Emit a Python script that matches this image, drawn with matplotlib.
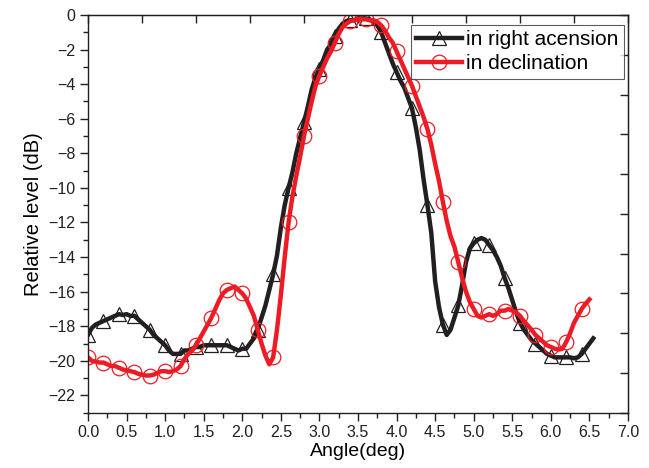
import numpy as np
import matplotlib
matplotlib.use("Agg")
import matplotlib.pyplot as plt
from matplotlib.ticker import MultipleLocator, FixedLocator

plt.rcParams['font.family'] = ['Liberation Sans', 'DejaVu Sans']

angle = np.round(np.arange(0, 6.5501, 0.05), 2)

ra_level = [
    -18.5, -18.1, -17.9, -17.8, -17.7, -17.6, -17.5, -17.4, -17.3, -17.35,
    -17.3, -17.4, -17.4, -17.6, -17.8, -18.0, -18.2, -18.5, -18.7, -18.9,
    -19.1, -19.4, -19.6, -19.6, -19.6, -19.4, -19.4, -19.3, -19.2, -19.2,
    -19.1, -19.1, -19.1, -19.1, -19.1, -19.1, -19.1, -19.2, -19.3, -19.4,
    -19.3, -19.3, -19.0, -18.7, -18.2, -17.5, -16.8, -15.9, -15.0, -13.9,
    -12.3, -11.0, -10.0, -9.1, -8.0, -7.1, -6.2, -5.3, -4.3, -3.6,
    -3.1, -2.6, -2.0, -1.7, -1.2, -0.8, -0.5, -0.35, -0.3, -0.3,
    -0.2, -0.2, -0.2, -0.25, -0.4, -0.6, -1.0, -1.6, -2.2, -2.8,
    -3.3, -3.8, -4.2, -4.8, -5.4, -6.5, -7.8, -9.5, -11.0, -12.6,
    -15.4, -16.9, -17.9, -18.5, -18.2, -17.5, -16.8, -15.6, -14.3, -13.5,
    -13.2, -13.0, -12.9, -13.0, -13.3, -13.6, -14.0, -14.5, -15.2, -15.8,
    -16.5, -17.2, -17.8, -18.2, -18.5, -18.8, -19.0, -19.2, -19.4, -19.6,
    -19.7, -19.8, -19.8, -19.8, -19.8, -19.8, -19.85, -19.8, -19.6, -19.3,
    -19.0, -18.7,
]

dec_angle = angle[:131]
dec_level = [
    -19.8, -20.0, -20.05, -20.1, -20.1, -20.2, -20.3, -20.3, -20.4, -20.5,
    -20.55, -20.6, -20.65, -20.75, -20.8, -20.85, -20.85, -20.8, -20.7, -20.6,
    -20.6, -20.65, -20.6, -20.5, -20.3, -19.9, -19.6, -19.4, -19.1, -18.7,
    -18.3, -17.9, -17.5, -17.0, -16.5, -16.1, -15.9, -15.8, -15.7, -15.9,
    -16.1, -16.4, -16.9, -17.4, -18.2, -19.0, -19.7, -20.2, -19.8, -18.2,
    -16.2, -14.0, -12.0, -10.5, -9.3, -8.2, -7.0, -6.0, -5.0, -4.1,
    -3.5, -3.0, -2.5, -2.1, -1.6, -1.1, -0.7, -0.5, -0.35, -0.3,
    -0.25, -0.25, -0.25, -0.3, -0.3, -0.4, -0.6, -0.9, -1.3, -1.6,
    -2.1, -2.6, -3.1, -3.6, -4.1, -4.7, -5.3, -5.9, -6.6, -7.5,
    -8.6, -9.6, -10.8, -11.9, -12.8, -13.4, -14.3, -15.2, -16.0, -16.6,
    -17.0, -17.4, -17.5, -17.4, -17.3, -17.4, -17.3, -17.1, -17.1, -17.0,
    -17.1, -17.2, -17.4, -17.7, -17.95, -18.2, -18.5, -18.7, -18.9, -19.1,
    -19.2, -19.3, -19.35, -19.3, -18.9, -18.4, -17.8, -17.4, -17.0, -16.7,
    -16.45,
]

series_labels = ["in right acension", "in declination"]
x_ticks = [0.0, 0.5, 1.0, 1.5, 2.0, 2.5, 3.0, 3.5, 4.0, 4.5, 5.0, 5.5, 6.0, 6.5, 7.0]
y_ticks = [0, -2, -4, -6, -8, -10, -12, -14, -16, -18, -20, -22]

black = "#231f20"
red = "#ed1c24"

fig = plt.figure(figsize=(6.49, 4.68), dpi=100)
ax = fig.add_axes([88 / 649, 1 - 412.7 / 468, 540 / 649, (412.7 - 15) / 468])

ax.plot(angle, ra_level, color=black, lw=3.2, marker="^", ms=10,
        mfc="none", mec=black, mew=0.9, markevery=4, label=series_labels[0])
ax.plot(dec_angle, dec_level, color=red, lw=3.2, marker="o", ms=10.5,
        mfc="none", mec=red, mew=0.9, markevery=4, label=series_labels[1])

ax.set_xlim(0, 7.0)
ax.set_ylim(-23, 0)
ax.xaxis.set_major_locator(FixedLocator(x_ticks))
ax.xaxis.set_minor_locator(MultipleLocator(0.25))
ax.yaxis.set_major_locator(FixedLocator(y_ticks))
ax.yaxis.set_minor_locator(MultipleLocator(1))
ax.set_xticklabels([f"{t:.1f}" for t in x_ticks])
ax.tick_params(which="major", direction="out", length=6, width=1, labelsize=11.5,
               top=False, right=False, colors="#231f20", pad=3)
ax.tick_params(which="minor", direction="out", length=3.5, width=1,
               top=False, right=False, colors="#231f20")

for s in ax.spines.values():
    s.set_linewidth(1.0)
    s.set_color("#231f20")

# top and right axes with 10 divisions, inward ticks
top = ax.secondary_xaxis("top")
top.set_xticks(np.linspace(0, 7.0, 11))
top.tick_params(direction="in", length=6, width=1, labelsize=0, labeltop=False, colors="#231f20")
top.xaxis.set_minor_locator(plt.NullLocator())
right = ax.secondary_yaxis("right")
right.set_yticks(np.linspace(-23, 0, 11))
right.tick_params(direction="in", length=6, width=1, labelright=False, colors="#231f20")
right.yaxis.set_minor_locator(plt.NullLocator())

ax.set_xlabel("Angle(deg)", fontsize=14, labelpad=2)
ax.set_ylabel("Relative level (dB)", fontsize=14.5, labelpad=4)

leg = ax.legend(loc="upper right", bbox_to_anchor=(0.9926, 0.975), borderaxespad=0,
                fontsize=15, frameon=True, fancybox=False, handlelength=2.2,
                handletextpad=0.2, borderpad=0.25, labelspacing=0.25)
leg.get_frame().set_edgecolor("#333333")
leg.get_frame().set_linewidth(0.8)

fig.savefig("out.png", dpi=100)
